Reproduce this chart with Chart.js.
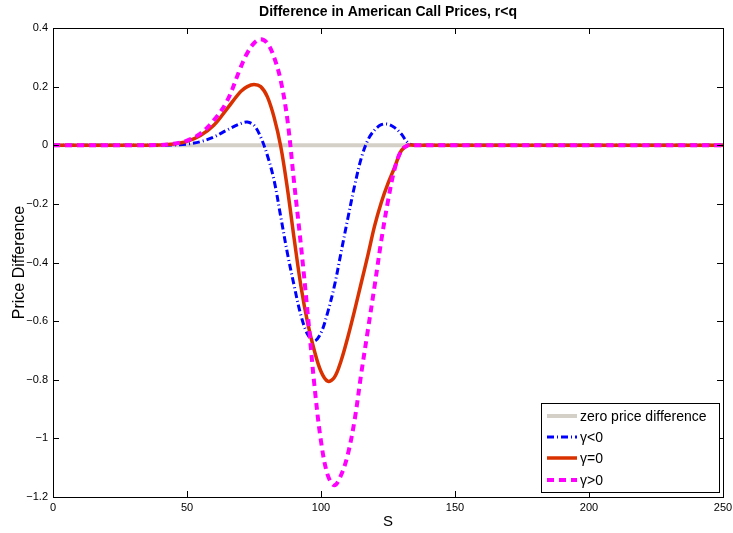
<!DOCTYPE html>
<html>
<head>
<meta charset="utf-8">
<script src="https://cdn.jsdelivr.net/npm/chart.js@4/dist/chart.umd.min.js"></script>
<style>
html,body{margin:0;padding:0;background:#fff;overflow:hidden;}
canvas{display:block;}
</style>
</head>
<body>
<canvas id="c" width="733" height="533"></canvas>
<script>
// ---- data ----
const titleText = 'Difference in American Call Prices, r<q';
const xTitle = 'S';
const yTitle = 'Price Difference';
const xTicks = [0, 50, 100, 150, 200, 250];
const yTicks = [0.4, 0.2, 0, -0.2, -0.4, -0.6, -0.8, -1, -1.2];

const S = [0,10,20,30,40,45,50,55,60,65,70,72.5,75,77.5,80,82.5,85,87.5,90,92.5,95,97.5,100,102.5,105,107.5,110,112.5,115,117.5,120,122.5,125,127.5,130,132.5,135,140,150,200,250];

const zeroS = [0, 250];
const zeroVals = [0, 0];

const gammaNeg = [0,0,0,0,0,0.001,0.004,0.012,0.028,0.052,0.074,0.079,0.068,0.028,-0.035,-0.12,-0.245,-0.37,-0.48,-0.58,-0.645,-0.668,-0.64,-0.57,-0.48,-0.365,-0.25,-0.14,-0.045,0.018,0.052,0.07,0.072,0.06,0.038,0.008,0,0,0,0,0];

const gammaZero = [0,0,0,0,0.001,0.004,0.013,0.033,0.068,0.125,0.183,0.2,0.207,0.2,0.165,0.095,-0.005,-0.15,-0.32,-0.48,-0.605,-0.7,-0.772,-0.805,-0.792,-0.735,-0.655,-0.565,-0.47,-0.375,-0.275,-0.195,-0.13,-0.075,-0.018,0,0,0,0,0,0];

const gammaPos = [0,0,0,0,0.001,0.005,0.016,0.04,0.085,0.152,0.265,0.315,0.348,0.362,0.348,0.3,0.22,0.085,-0.13,-0.34,-0.57,-0.815,-1.01,-1.125,-1.16,-1.125,-1.055,-0.94,-0.78,-0.63,-0.48,-0.325,-0.19,-0.08,-0.018,0,0,0,0,0,0];

const seriesLabels = ['zero price difference', 'γ<0', 'γ=0', 'γ>0'];

// ---- chart ----
const FONT = '"Liberation Sans", Arial, Helvetica, sans-serif';
Chart.defaults.font.family = FONT;
Chart.defaults.color = '#000';

const pts = (xs, ys) => xs.map((x, i) => ({x: x, y: ys[i]}));

const fmt = v => {
  const n = Number(v.toFixed(1));
  return n < 0 ? '\u2212' + String(-n) : String(n);
};

const framePlugin = {
  id: 'frame',
  afterDraw(chart) {
    const {ctx, chartArea: a, scales: {x, y}} = chart;
    ctx.save();
    ctx.strokeStyle = '#000';
    ctx.lineWidth = 1;
    ctx.beginPath();
    const tl = 6;
    xTicks.forEach(v => {
      const px = Math.round(x.getPixelForValue(v)) + 0.5;
      ctx.moveTo(px, a.bottom); ctx.lineTo(px, a.bottom - tl);
      ctx.moveTo(px, a.top); ctx.lineTo(px, a.top + tl);
    });
    yTicks.forEach(v => {
      const py = Math.round(y.getPixelForValue(v)) + 0.5;
      ctx.moveTo(a.left, py); ctx.lineTo(a.left + tl, py);
      ctx.moveTo(a.right, py); ctx.lineTo(a.right - tl, py);
    });
    ctx.stroke();
    ctx.strokeRect(Math.round(a.left) + 0.5, Math.round(a.top) + 0.5,
                   Math.round(a.right - a.left), Math.round(a.bottom - a.top));

    // legend box (inside plot, bottom-right)
    const bw = 178, bh = 89;
    const bx = a.right - 4 - bw, by = a.bottom - 5 - bh;
    ctx.fillStyle = '#fff';
    ctx.fillRect(bx, by, bw, bh);
    ctx.strokeRect(Math.round(bx) + 0.5, Math.round(by) + 0.5, bw, bh);
    const rowY = [13, 34, 55, 77];
    ctx.font = '14px ' + FONT;
    ctx.textBaseline = 'middle';
    ctx.textAlign = 'left';
    chart.data.datasets.forEach((ds, i) => {
      const yy = by + rowY[i];
      ctx.save();
      ctx.strokeStyle = ds.borderColor;
      ctx.lineWidth = ds.borderWidth;
      ctx.setLineDash(ds.borderDash || []);
      ctx.beginPath();
      ctx.moveTo(bx + 6, yy);
      ctx.lineTo(bx + 36, yy);
      ctx.stroke();
      ctx.restore();
      ctx.fillStyle = '#000';
      ctx.fillText(ds.label, bx + 39, yy + 1);
    });
    ctx.restore();
  }
};

new Chart(document.getElementById('c'), {
  type: 'line',
  data: {
    datasets: [
      {label: seriesLabels[0], data: pts(zeroS, zeroVals), borderColor: 'rgb(212,208,200)', borderWidth: 4, order: 4},
      {label: seriesLabels[1], data: pts(S, gammaNeg), borderColor: '#0000ff', borderWidth: 3, borderDash: [7, 3, 1, 3], order: 3},
      {label: seriesLabels[2], data: pts(S, gammaZero), borderColor: 'rgb(217,50,0)', borderWidth: 3.5, order: 2},
      {label: seriesLabels[3], data: pts(S, gammaPos), borderColor: '#ff00ff', borderWidth: 4, borderDash: [7, 5], order: 1}
    ]
  },
  options: {
    responsive: false,
    devicePixelRatio: 1,
    animation: false,
    layout: {padding: {left: 0, right: 10, top: 0, bottom: 0}},
    elements: {
      point: {radius: 0},
      line: {tension: 0.35, fill: false, borderCapStyle: 'butt'}
    },
    plugins: {
      legend: {display: false},
      tooltip: {enabled: false},
      title: {
        display: true,
        text: titleText,
        fullSize: false,
        font: {size: 14, weight: 'bold', family: FONT, lineHeight: 1.2},
        padding: {top: 4, bottom: 7.2},
        color: '#000'
      }
    },
    scales: {
      x: {
        type: 'linear',
        min: 0, max: 250,
        afterBuildTicks: s => { s.ticks = xTicks.map(v => ({value: v})); },
        afterFit: s => { s.height = 36; s.paddingLeft = 0; s.paddingRight = 0; },
        grid: {display: false, drawTicks: false},
        border: {display: false},
        ticks: {padding: 4, font: {size: 11}, color: '#000', maxRotation: 0, autoSkip: false, callback: v => fmt(v)},
        title: {display: true, text: xTitle, font: {size: 15}, padding: {top: 0, bottom: 2}, color: '#000'}
      },
      y: {
        type: 'linear',
        min: -1.2, max: 0.4,
        afterBuildTicks: s => { s.ticks = yTicks.map(v => ({value: v})); },
        afterFit: s => { s.width = 53; s.paddingTop = 0; s.paddingBottom = 0; },
        grid: {display: false, drawTicks: false},
        border: {display: false},
        ticks: {padding: 5, font: {size: 11}, color: '#000', autoSkip: false, callback: v => fmt(v)},
        title: {display: true, text: yTitle, font: {size: 16}, padding: {top: 10, bottom: 0}, color: '#000'}
      }
    }
  },
  plugins: [framePlugin]
});
</script>
</body>
</html>
